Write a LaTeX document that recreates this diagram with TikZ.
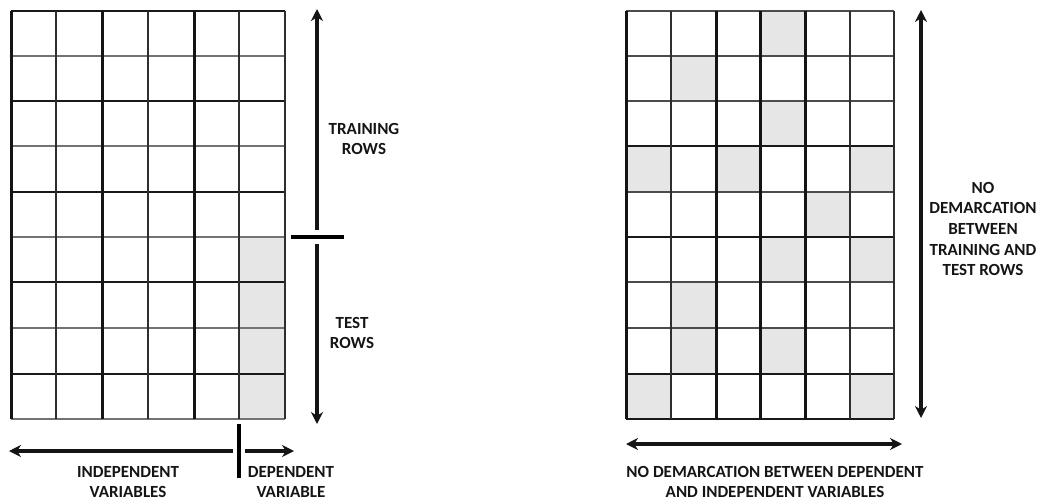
\documentclass[tikz,border=0pt]{standalone}
\usepackage{fontspec}
\setmainfont{Carlito}
\usetikzlibrary{arrows.meta}
\definecolor{cellgray}{HTML}{E6E6E6}
\definecolor{txt}{HTML}{151515}
\begin{document}
\begin{tikzpicture}[x=1pt,y=-1pt,
  cell/.style={fill=cellgray,draw=none},
  vthick/.style={line width=3.0pt,black!92},
  vmed/.style={line width=2.4pt,black!82},
  hthick/.style={line width=2.8pt,black!90},
  hthin/.style={line width=2.0pt,black!55},
  arr/.style={line width=3.2pt,black!92,-{Stealth[length=12pt,width=12pt]}},
  darr/.style={line width=3.2pt,black!92,{Stealth[length=12pt,width=12pt]}-{Stealth[length=12pt,width=12pt]}},
  tickmark/.style={line width=4.5pt,black},
  lbl/.style={font=\bfseries\fontsize{17}{20.7}\selectfont,text=txt,align=center,inner sep=0pt}]
\useasboundingbox (0,0) rectangle (1039,501);

% ---------- left grid ----------
\fill[cell] (239,237) rectangle (285,419);
\foreach \y in {56,146,237,328,419} \draw[hthin] (11,\y) -- (285,\y);
\foreach \y in {11,101,192,282,374} \draw[hthick] (11,\y) -- (285,\y);
\foreach \x in {11,102,194} \draw[vthick] (\x,11) -- (\x,419);
\foreach \x in {56,148,239,285} \draw[vmed] (\x,11) -- (\x,419);

% ---------- right grid ----------
\fill[cell] (760,11) rectangle (805,56);
\fill[cell] (671,56) rectangle (716,101);
\fill[cell] (760,101) rectangle (805,146);
\fill[cell] (626,146) rectangle (671,192);
\fill[cell] (716,146) rectangle (760,192);
\fill[cell] (850,146) rectangle (894,192);
\fill[cell] (805,192) rectangle (850,237);
\fill[cell] (760,237) rectangle (805,282);
\fill[cell] (850,237) rectangle (894,282);
\fill[cell] (671,282) rectangle (716,328);
\fill[cell] (671,328) rectangle (716,374);
\fill[cell] (760,328) rectangle (805,374);
\fill[cell] (626,374) rectangle (671,419);
\fill[cell] (850,374) rectangle (894,419);
\foreach \y in {11,56,101,192,282,328} \draw[hthin,black!70] (626,\y) -- (894,\y);
\foreach \y in {146,237,374,419} \draw[hthick] (626,\y) -- (894,\y);
\foreach \x in {626,716,760,805} \draw[vthick] (\x,11) -- (\x,419);
\foreach \x in {671,850,894} \draw[vmed] (\x,11) -- (\x,419);

% ---------- left annotations ----------
\coordinate (tA) at (317,9);
\coordinate (tB) at (317,230);
\coordinate (tC) at (317,244);
\coordinate (tD) at (317,424);
\coordinate (sL) at (291,237);
\coordinate (sR) at (344,237);
\draw[arr] (tB) -- (tA);
\draw[arr] (tC) -- (tD);
\draw[tickmark] (sL) -- (sR);

\coordinate (hA) at (233,451);
\coordinate (hL) at (9,451);
\coordinate (hB) at (245,451);
\coordinate (hR) at (294,451);
\coordinate (vT) at (239,424);
\coordinate (vB) at (239,478);
\draw[arr] (hA) -- (hL);
\draw[arr] (hB) -- (hR);
\draw[tickmark] (vT) -- (vB);

\node[lbl] (train) at (364,139) {TRAINING\\ROWS};
\node[lbl] (test) at (352,333) {TEST\\ROWS};
\node[lbl] (indep) at (128,482) {INDEPENDENT\\VARIABLES};
\node[lbl] (dep) at (291,482) {DEPENDENT\\VARIABLE};

% ---------- right annotations ----------
\coordinate (rT) at (921,10);
\coordinate (rB) at (921,418);
\draw[darr] (rT) -- (rB);
\coordinate (bL) at (626,444);
\coordinate (bR) at (902,444);
\draw[darr] (bL) -- (bR);

\node[lbl] (nodemrows) at (983,229) {NO\\DEMARCATION\\BETWEEN\\TRAINING AND\\TEST ROWS};
\node[lbl] (nodemvars) at (775,482) {NO DEMARCATION BETWEEN DEPENDENT\\AND INDEPENDENT VARIABLES};
\end{tikzpicture}
\end{document}
